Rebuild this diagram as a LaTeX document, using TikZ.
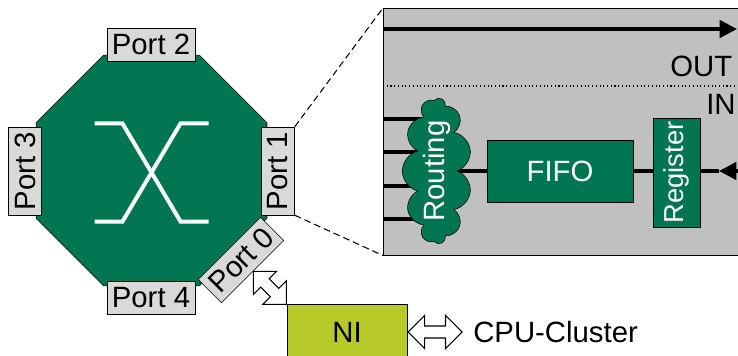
\documentclass[tikz,border=0pt]{standalone}
\usepackage{fontspec}
\setmainfont{Liberation Sans}
\usetikzlibrary{positioning,calc,arrows.meta,shapes.geometric,shapes.symbols,shapes.arrows}
\definecolor{noc}{HTML}{007552}
\definecolor{nifill}{HTML}{B8C92A}
\definecolor{portbg}{HTML}{D9D9D9}
\definecolor{panel}{HTML}{C0C0C0}
\tikzset{
  port/.style  ={draw, fill=portbg, inner sep=0pt, minimum width=66pt,
                 minimum height=24.75pt, font=\fontsize{22}{26}\selectfont},
  router/.style={draw, fill=noc, regular polygon, regular polygon sides=8,
                 minimum size=187.5pt, inner sep=0pt},
  blk/.style   ={draw, fill=noc, text=white, inner sep=0pt,
                 font=\fontsize{22}{26}\selectfont},
  cloudy/.style={blk, cloud, cloud puffs=11, cloud ignores aspect,
                 minimum width=99pt, minimum height=52pt},
  xline/.style ={white, line width=3pt},
  wire/.style  ={line width=2.4pt},
  flow/.style  ={wire, -{Triangle[length=13pt,width=13pt]}},
  hollow/.style={draw, fill=white, double arrow, double arrow head extend=7.9pt,
                 inner sep=4.1pt, line width=0.8pt},
  lbl/.style   ={font=\fontsize{22}{26}\selectfont, inner sep=0pt},
}

\begin{document}
\begin{tikzpicture}[x=0.75pt, y=-0.75pt]
  \useasboundingbox (0,0) rectangle (738,356);
  \clip (0,0) rectangle (738,356);
  % router with its five ports
  \node[router] (router) at (151.5,170.5) {};
  \draw[xline] ($(router)+(-57,-47)$) -- ++(28,0) -- ($(router)+(29,51)$) -- ++(28,0);
  \draw[xline] ($(router)+(-57,51)$) -- ++(28,0) -- ($(router)+(29,-47)$) -- ++(28,0);
  \node[port]            (port2) at (151,44.5)  {Port 2};
  \node[port]            (port4) at (151,297.5) {Port 4};
  \node[port, rotate=90] (port3) at (25,171)    {Port 3};
  \node[port, rotate=90] (port1) at (278,171)   {Port 1};
  \node[port, rotate=45] (port0) at (241,260)   {Port 0};

  % zoomed view of one port
  \node[draw, fill=panel, anchor=north west, minimum width=290pt,
        minimum height=185.25pt] (detail) at (383,8) {};
  \draw[dashed, thick, dash pattern=on 5pt off 3pt] (port1.south east) -- (detail.north west);
  \draw[dashed, thick, dash pattern=on 5pt off 3pt] (port1.south west) -- (detail.south west);
  \coordinate (outL) at (383,29);
  \coordinate (outR) at (737,29);
  \draw[flow] (outL) -- (outR);
  \coordinate (sepL) at (383,86);
  \coordinate (sepR) at (740,86);
  \draw[dotted, thick] (sepL) -- (sepR);
  \node[lbl, anchor=base west] (outlbl) at (670,77)  {OUT};
  \node[lbl, anchor=base west] (inlbl)  at (706,115) {IN};

  \coordinate (rc) at (437,171);
  \node[blk, minimum width=109.5pt, minimum height=46.5pt] (fifo) at (560,171) {FIFO};
  \node[blk, rotate=90, minimum width=81.75pt, minimum height=35.25pt,
        font=\fontsize{20.5}{24}\selectfont] (register) at (676.5,172.5) {Register};
  \foreach \y [count=\i] in {119,152,186,219}{
    \coordinate (in\i) at (383,\y);
    \draw[wire] (in\i) -- (in\i -| rc);
  }
  \draw[wire] (rc) -- (fifo);
  \draw[wire] (fifo) -- (fifo -| register.north);
  \node[cloudy, rotate=90] (routing) at (rc) {Routing};
  \coordinate (inR)   at (745,171);
  \coordinate (inTip) at (719,171);
  \draw[flow] (inR) -- (inTip);
  \draw[wire] (inTip) -- (inTip -| register.south);

  % network interface
  \node[blk, fill=nifill, text=black, minimum width=90pt, minimum height=42pt] (ni) at (347,332) {NI};
  \node[lbl, anchor=west] (cpu) at (473,332) {CPU-Cluster};
  \node[hollow, anchor=west, minimum height=40.5pt, minimum width=24pt] (link) at (ni.east) {};
  \node[hollow, rotate=-45, minimum height=35pt, minimum width=24pt] (plink)
    at ($(port0.south)!0.5!(ni.north west)$) {};
\end{tikzpicture}
\end{document}
